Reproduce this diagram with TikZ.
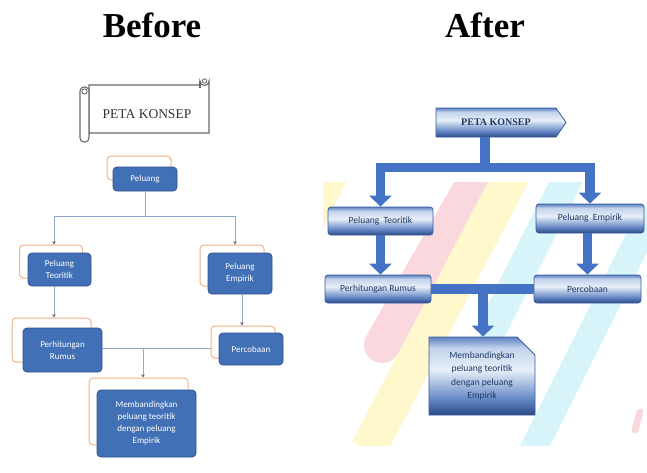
\documentclass[tikz,border=0pt]{standalone}
\usepackage{fontspec}
\setmainfont{Liberation Serif}
\newfontfamily\boxfont{Carlito}
\usetikzlibrary{shapes.symbols,shapes.misc,arrows.meta,calc,shadows}

\definecolor{obluefill}{HTML}{4270B6}
\definecolor{obluedraw}{HTML}{2F528F}
\definecolor{oorange}{HTML}{F4B183}
\definecolor{conncol}{HTML}{8FA8CC}
\definecolor{fatblue}{HTML}{4472C4}
\definecolor{navytext}{HTML}{1F3864}
\definecolor{boxborder}{HTML}{3A5C9C}
\definecolor{scroll}{HTML}{6A6A6A}
\definecolor{sc1}{HTML}{2A4A86}
\definecolor{sc2}{HTML}{6286C4}
\definecolor{sc3}{HTML}{E8EFF8}
\definecolor{sc4}{HTML}{C3D3EB}
\definecolor{sc5}{HTML}{5E82C2}
\definecolor{pinkc}{HTML}{F9D8DE}
\definecolor{yelc}{HTML}{FFF8CC}
\definecolor{cyanc}{HTML}{D8F5FB}

\pgfdeclareverticalshading{boxshade}{100bp}{color(0bp)=(sc1); color(25bp)=(sc1); color(35bp)=(sc2); color(54bp)=(sc3); color(68bp)=(sc4); color(75bp)=(sc5); color(100bp)=(sc5)}

\tikzset{
  title/.style={font=\fontsize{35}{40}\selectfont\bfseries, anchor=base, inner sep=0pt},
  bbox/.style={rounded corners=4pt, fill=obluefill, draw=obluedraw, line width=0.8pt,
    text=white, font=\boxfont\fontsize{9}{12}\selectfont, align=center, inner sep=2pt},
  oshadow/.style 2 args={copy shadow={shadow xshift=#1pt, shadow yshift=#2pt, opacity=1,
    fill=white, draw=oorange, line width=1pt}},
  conn/.style={draw=conncol, line width=0.9pt},
  carr/.style={conn, -{Stealth[length=3.5pt,width=3.5pt,color=black!60]}},
  scrollline/.style={draw=scroll, line width=1.1pt, fill=white},
  abox/.style={shading=boxshade, draw=boxborder, line width=0.8pt, rounded corners=3pt,
    text=navytext, font=\boxfont\fontsize{9.5}{13.5}\selectfont, align=center,
    inner sep=2pt, minimum height=28pt},
  fat/.style={draw=fatblue, line width=9.5pt},
  fatarr/.style={fat, line join=miter, -{Triangle[width=22pt,length=11pt]}},
}

\begin{document}
\begin{tikzpicture}[x=1pt,y=-1pt]
\useasboundingbox (0,0) rectangle (647,472);

% titles
\node[title] (tbefore) at (152,37) {Before};
\node[title] (tafter) at (485,37) {After};

% ---------------- Before ----------------
% scroll
\draw[scrollline] (89,85) -- (200,85) -- (200,81) arc[start angle=180, end angle=0, radius=4.5]
   -- (209,133) -- (89,133) -- cycle;
\draw[scroll, line width=1.1pt] (200,81) -- (200,88);
\draw[scroll, line width=0.9pt] (204.5,81) circle[radius=2.2];
\draw[scrollline, rounded corners=4pt] (80,87) rectangle (89,142);
\draw[scroll, line width=0.9pt] (84.5,91.5) circle[radius=2.6];
\node[font=\fontsize{13.5}{15}\selectfont, text=black!80] (scrolltext) at (147,114) {PETA KONSEP};

\node[bbox, oshadow={-6}{11}, minimum width=64pt, minimum height=24pt] (bp) at (145,179) {Peluang};
\node[bbox, oshadow={-8.5}{8}, minimum width=63pt, minimum height=33pt] (bt) at (59.5,269.5) {Peluang\\Teoritik};
\node[bbox, oshadow={-8}{8}, minimum width=64pt, minimum height=41pt] (be) at (240,273.5) {Peluang\\Empirik};
\node[bbox, oshadow={-11}{10}, minimum width=79pt, minimum height=44pt] (br) at (62.5,350) {Perhitungan\\Rumus};
\node[bbox, oshadow={-8}{7}, minimum width=64pt, minimum height=32pt] (bc) at (251,349) {Percobaan};
\node[bbox, oshadow={-8}{12}, minimum width=99pt, minimum height=67pt] (bm) at (146.5,423.5) {Membandingkan\\peluang teoritik\\dengan peluang\\Empirik};

\coordinate (bj) at ($(bp.south)+(0,25)$);
\coordinate (bl) at (54,216);
\coordinate (bri) at (235,216);
\draw[conn] (bp.south) -- (bj);
\draw[conn] (bl) -- (bri);
\draw[carr] (bl) -- ($(bl |- bt.north)+(0,-8)$);
\draw[carr] (bri) -- ($(bri |- be.north)+(0,-8)$);
\coordinate (bl2) at (54,286);
\draw[carr] (bl2) -- ($(bl2 |- br.north)+(0,-10)$);
\coordinate (br2) at (242,294);
\draw[carr] (br2) -- ($(br2 |- bc.north)+(0,-7)$);
\coordinate (bh) at ($(bc.west)+(-8,-1)$);
\draw[conn] (br.east |- bh) -- (bh);
\coordinate (bj2) at (143,348);
\draw[carr] (bj2) -- ($(bj2 |- bm.north)+(0,-12)$);

% ---------------- After ----------------
\begin{scope}
\clip (323,182) rectangle (647,445);
\draw[yelc, line width=22pt, line cap=round] (350,150) -- (315,220);
\draw[pinkc, line width=36pt, line cap=round] (493,150) -- (382,345);
\draw[yelc, line width=36pt] (525,150) -- (368,450);
\draw[cyanc, line width=30pt, line cap=round] (582,150) -- (494,325);
\draw[cyanc, line width=27pt] (653,210) -- (518,480);
\draw[pinkc, line width=7pt, line cap=round] (640,412) -- (635,430);
\end{scope}

\node[signal, signal to=east, signal pointer angle=110, minimum width=130pt, minimum height=29pt,
  shading=boxshade, draw=boxborder, line width=0.8pt, inner sep=0pt, text=navytext,
  font=\fontsize{10}{12}\selectfont\bfseries] (peta) at (496,122.5) {PETA KONSEP};

\node[abox, minimum width=105pt] (apt) at (380.5,221) {Peluang\ \ Teoritik};
\node[abox, minimum width=108pt, minimum height=29pt] (ape) at (590,218.5) {Peluang\ \ Empirik};
\node[abox, minimum width=106pt] (apr) at (378,289) {Perhitungan Rumus};
\node[abox, minimum width=107pt] (apc) at (587.5,289) {Percobaan};
\node[abox, chamfered rectangle, chamfered rectangle corners=north east,
  chamfered rectangle xsep=9pt, chamfered rectangle ysep=9pt, rounded corners=0pt,
  minimum width=106pt, minimum height=78pt] (amb) at (482,376)
  {Membandingkan\\peluang teoritik\\dengan peluang\\Empirik};

\coordinate (aj1) at (485,167.5);
\draw[fat] (peta.south -| aj1) -- (aj1);
\draw[fatarr] (aj1) -| (apt.north);
\draw[fatarr] (aj1) -| (ape.north);
\draw[fatarr] (apt.south) -- (apt.south |- apr.north);
\draw[fatarr] (ape.south -| apc.north) -- (apc.north);
\draw[fat] (apr.east) -- (apc.west);
\coordinate (aj2) at (483,289);
\draw[fatarr] (aj2) -- (aj2 |- amb.north);
\end{tikzpicture}
\end{document}
